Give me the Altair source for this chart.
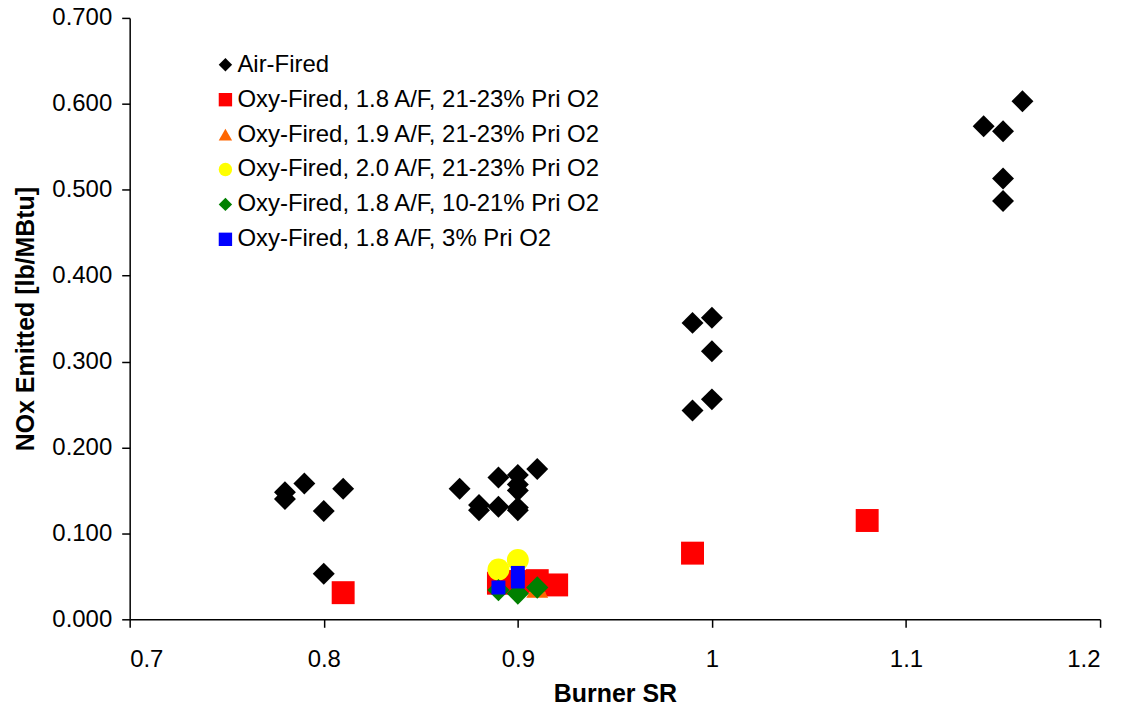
import altair as alt
import pandas as pd

series_names = [
    "Air-Fired",
    "Oxy-Fired, 1.8 A/F, 21-23% Pri O2",
    "Oxy-Fired, 1.9 A/F, 21-23% Pri O2",
    "Oxy-Fired, 2.0 A/F, 21-23% Pri O2",
    "Oxy-Fired, 1.8 A/F, 10-21% Pri O2",
    "Oxy-Fired, 1.8 A/F, 3% Pri O2",
]
series_colors = ["#000000", "#FF0000", "#FF6600", "#FFFF00", "#008000", "#0000FF"]
series_shapes = ["diamond", "square", "triangle-up", "circle", "diamond", "square"]
series_sizes = [484, 529, 484, 484, 500, 196]

air_sr = [0.78, 0.78, 0.79, 0.80, 0.81, 0.80,
          0.87, 0.88, 0.88, 0.89, 0.89, 0.90, 0.90, 0.90, 0.90, 0.90, 0.91,
          0.99, 0.99, 1.00, 1.00, 1.00,
          1.14, 1.15, 1.16, 1.15, 1.15]
air_nox = [0.140, 0.148, 0.158, 0.126, 0.152, 0.053,
           0.152, 0.133, 0.127, 0.165, 0.131, 0.168, 0.157, 0.150, 0.130, 0.127, 0.175,
           0.345, 0.243, 0.351, 0.312, 0.256,
           0.574, 0.568, 0.603, 0.513, 0.487]

oxy18_sr = [0.81, 0.89, 0.90, 0.91, 0.92, 0.99, 1.08]
oxy18_nox = [0.031, 0.042, 0.044, 0.045, 0.040, 0.077, 0.115]

oxy19_sr = [0.91]
oxy19_nox = [0.036]

oxy20_sr = [0.89, 0.90]
oxy20_nox = [0.058, 0.069]

oxy1021_sr = [0.89, 0.90, 0.91]
oxy1021_nox = [0.034, 0.030, 0.037]

oxy3_sr = [0.89, 0.90, 0.90]
oxy3_nox = [0.037, 0.044, 0.054]

all_sr = [air_sr, oxy18_sr, oxy19_sr, oxy20_sr, oxy1021_sr, oxy3_sr]
all_nox = [air_nox, oxy18_nox, oxy19_nox, oxy20_nox, oxy1021_nox, oxy3_nox]

rows = []
for i, (name, xs, ys) in enumerate(zip(series_names, all_sr, all_nox)):
    for x, y in zip(xs, ys):
        rows.append({"series": name, "order": i, "sr": x, "nox": y,
                     "sz": series_sizes[i]})
df = pd.DataFrame(rows)

FONT = "Liberation Sans"

chart = alt.Chart(df).mark_point(filled=True, opacity=1, strokeWidth=0).encode(
    x=alt.X("sr:Q", title="Burner SR",
            scale=alt.Scale(domain=[0.7, 1.2], nice=False, zero=False),
            axis=alt.Axis(values=[0.7, 0.8, 0.9, 1.0, 1.1, 1.2], format="~g",
                          grid=False, tickSize=8, labelPadding=20,
                          titlePadding=10)),
    y=alt.Y("nox:Q", title="NOx Emitted [lb/MBtu]",
            scale=alt.Scale(domain=[0, 0.7], nice=False),
            axis=alt.Axis(values=[0, 0.1, 0.2, 0.3, 0.4, 0.5, 0.6, 0.7], format=".3f",
                          grid=False, tickSize=8, labelPadding=10,
                          titlePadding=13)),
    color=alt.Color("series:N", title=None,
                    scale=alt.Scale(domain=series_names, range=series_colors),
                    legend=alt.Legend(orient="none", legendX=84, legendY=35,
                                      labelFont=FONT, labelFontSize=24,
                                      labelColor="#000000", symbolSize=180,
                                      symbolStrokeWidth=0, rowPadding=11,
                                      labelOffset=0, padding=0,
                                      labelLimit=600)),
    shape=alt.Shape("series:N", title=None,
                    scale=alt.Scale(domain=series_names, range=series_shapes)),
    size=alt.Size("sz:Q", scale=None, legend=None),
    order=alt.Order("order:Q"),
).properties(
    width=973, height=603,
    autosize=alt.AutoSizeParams(type="none"),
    padding={"left": 122, "top": 9, "right": 30, "bottom": 88},
    background="#ffffff",
).configure_axis(
    labelFont=FONT, labelFontSize=24, labelColor="#000000",
    titleFont=FONT, titleFontSize=25, titleFontWeight="bold", titleColor="#000000",
    domainColor="#000000", tickColor="#000000", domainWidth=1.5, tickWidth=1.5,
).configure_view(stroke=None)

chart.save("out.html", embed_options={"renderer": "svg", "actions": False})
